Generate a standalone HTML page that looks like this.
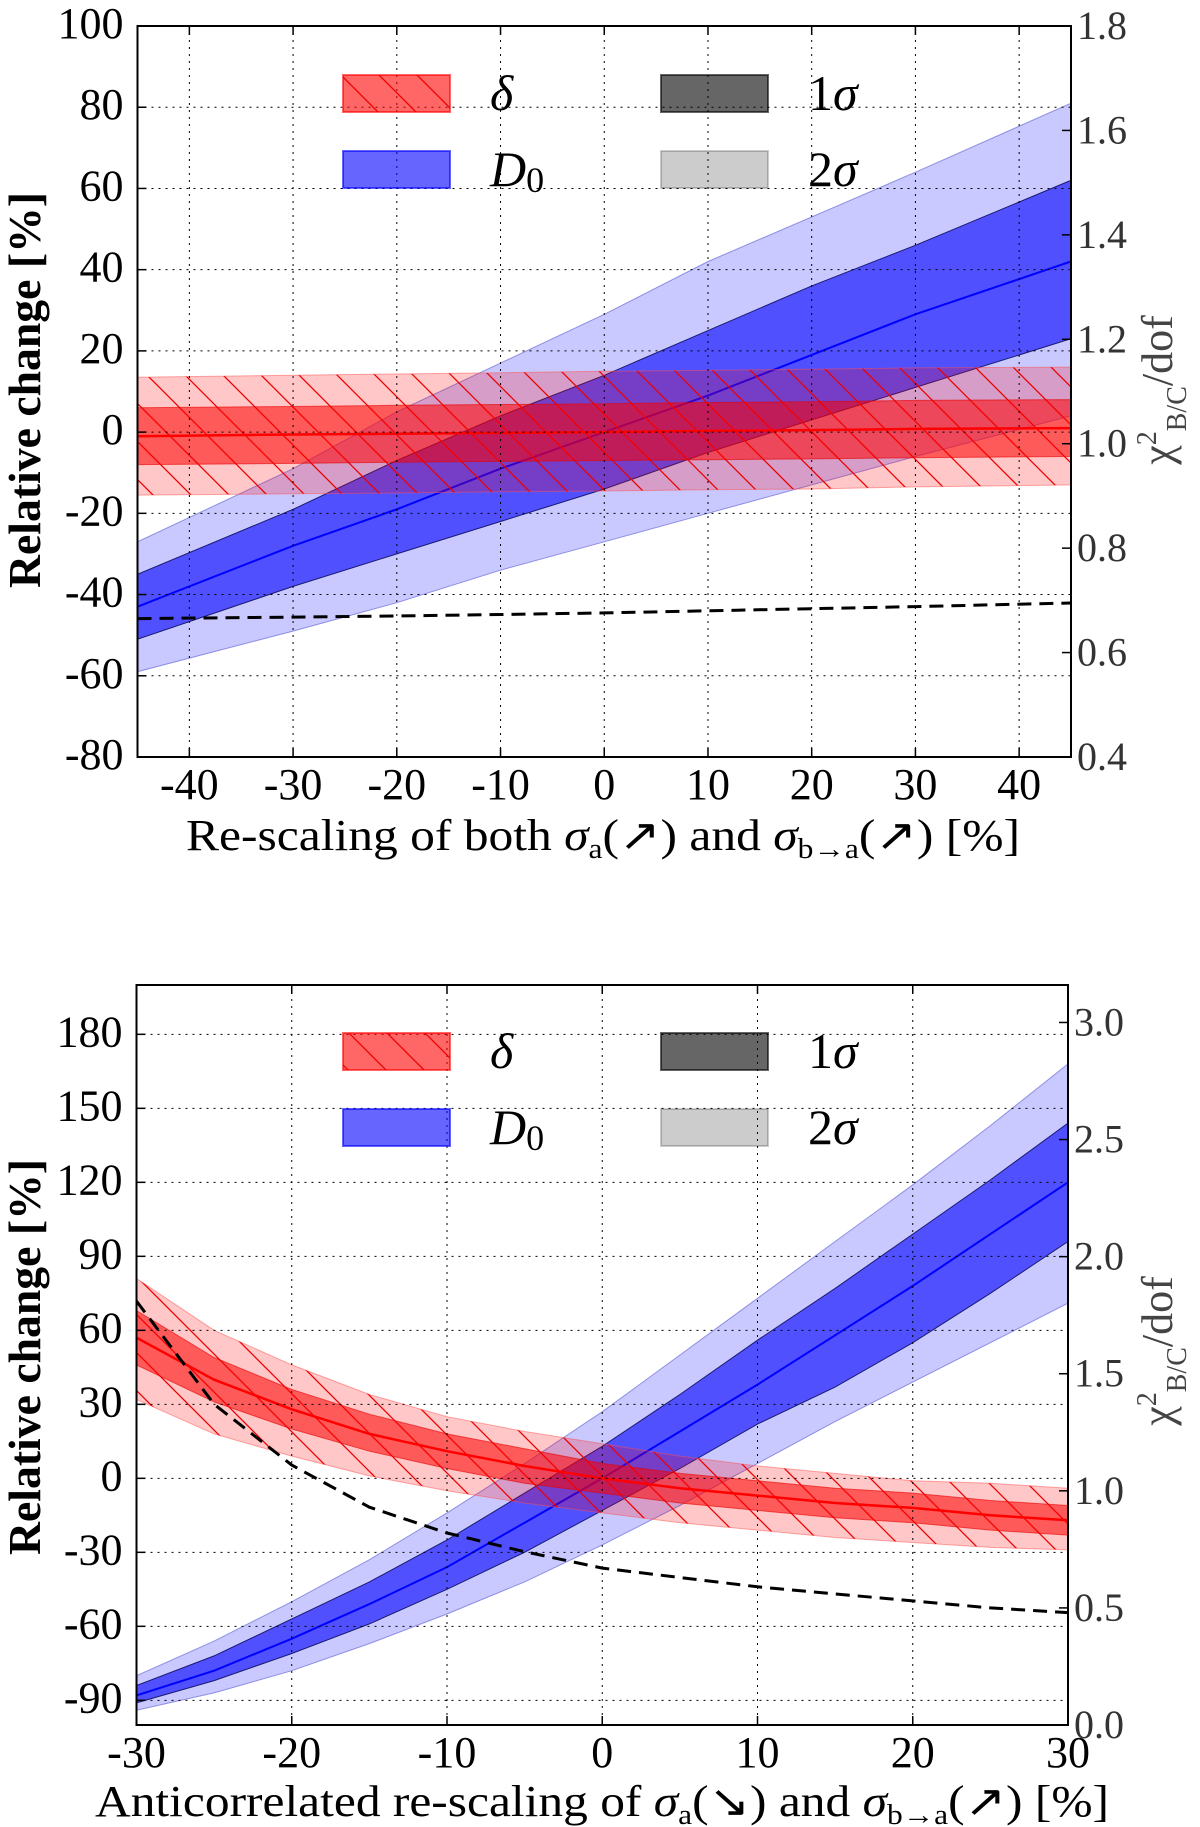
<!DOCTYPE html>
<html><head><meta charset="utf-8"><style>
html,body{margin:0;padding:0;background:#fff}
svg{display:block}
text{font-family:"Liberation Serif",serif}
</style></head><body>
<svg id="fig" width="1200" height="1827" viewBox="0 0 1200 1827" xmlns="http://www.w3.org/2000/svg">
<defs>
<pattern id="hatchA" patternUnits="userSpaceOnUse" width="38" height="38">
<path d="M-9,-9 L47,47 M-9,29 L9,47 M29,-9 L47,9" stroke="#e00" stroke-width="1.3"/>
</pattern>
<pattern id="hatchB" patternUnits="userSpaceOnUse" width="38" height="38">
<path d="M-9,-9 L47,47 M-9,29 L9,47 M29,-9 L47,9" stroke="#e00" stroke-width="1.3"/>
</pattern>
</defs>
<g id="top"></g>
<g id="bot"></g>
</svg>
<script>
// ---------- TOP CHART DATA ----------
const topX = [-45,-30,-20,-10,0,10,20,30,45];
const topBlueC  = [-43,-28,-19,-9,0,9,19,29,42];
const topBlueU1 = [-35,-19,-7,4,14,25,36,46,62];
const topBlueL1 = [-51,-38,-30,-22,-14,-5,3,11,23];
const topBlueU2 = [-27,-9,5,17,29,42,53,64,81];
const topBlueL2 = [-59,-49,-42,-34,-27,-20,-13,-6,4];
const topRedC   = [-1,-0.6,-0.4,-0.2,0,0.3,0.5,0.8,1];
const topRedU1  = [6,6.3,6.6,6.8,7,7.3,7.5,7.8,8];
const topRedL1  = [-8,-7.7,-7.4,-7.2,-7,-6.8,-6.6,-6.3,-6];
const topRedU2  = [13.5,14,14.3,14.6,15,15.2,15.5,15.8,16];
const topRedL2  = [-15.5,-15.2,-15,-14.7,-14.5,-14.2,-14,-13.5,-13];
const topChi    = [0.665,0.668,0.670,0.673,0.676,0.680,0.684,0.688,0.695];
const topXTicks = [-40,-30,-20,-10,0,10,20,30,40];
const topYTicks = [-80,-60,-40,-20,0,20,40,60,80,100];
const topRTicks = ["0.4","0.6","0.8","1.0","1.2","1.4","1.6","1.8"];

// ---------- BOTTOM CHART DATA ----------
const botX = [-30,-25,-20,-15,-10,-5,0,5,10,15,20,25,30];
const botBlueC  = [-88,-78,-65,-51,-36,-18,0,19,38,58,78,99,120];
const botBlueU1 = [-84,-72,-57,-42,-25,-6,13,34,56,77,99,121,144];
const botBlueL1 = [-91,-82,-71,-59,-45,-30,-13,4,22,37,55,75,96];
const botBlueU2 = [-80,-66,-50,-33,-14,6,27,50,73,96,119,143,168];
const botBlueL2 = [-94,-87,-78,-67,-55,-42,-27,-11,6,23,39,55,71];
const botRedC   = [57,40,28,18,11,5,0,-4,-7,-10,-12,-15,-17];
const botRedU1  = [68,49,36,26,18,12,6,2,-1,-4,-6,-9,-11];
const botRedL1  = [46,31,20,11,4,-2,-6,-10,-13,-16,-18,-21,-23];
const botRedU2  = [81,60,46,34,25,19,14,9,5,2,-1,-2,-4];
const botRedL2  = [32,18,9,1,-5,-10,-14,-18,-21,-24,-26,-28,-29];
const botChi    = [1.81,1.37,1.11,0.93,0.82,0.74,0.67,0.63,0.59,0.56,0.53,0.50,0.48];
const botXTicks = [-30,-20,-10,0,10,20,30];
const botYTicks = [-90,-60,-30,0,30,60,90,120,150,180];
const botRTicks = ["0.0","0.5","1.0","1.5","2.0","2.5","3.0"];

const NS="http://www.w3.org/2000/svg";
function mk(parent,tag,attrs){const e=document.createElementNS(NS,tag);for(const k in attrs)e.setAttribute(k,attrs[k]);parent.appendChild(e);return e;}

function drawChart(g,cfg){
  const {L,R,T,B,x0,x1,y0,y1,r0,r1}=cfg;
  const sx=v=>L+(v-x0)/(x1-x0)*(R-L);
  const sy=v=>B-(v-y0)/(y1-y0)*(B-T);
  const sr=v=>B-(v-r0)/(r1-r0)*(B-T);
  const X=cfg.xs;
  const line=(ys,f)=>X.map((x,i)=>(i?'L':'M')+sx(x).toFixed(1)+','+(f||sy)(ys[i]).toFixed(1)).join(' ');
  const band=(u,l)=>{let d=X.map((x,i)=>(i?'L':'M')+sx(x).toFixed(1)+','+sy(u[i]).toFixed(1)).join(' ');
    for(let i=X.length-1;i>=0;i--)d+=' L'+sx(X[i]).toFixed(1)+','+sy(l[i]).toFixed(1);return d+' Z';};
  const clipId='clip'+cfg.id;
  const cp=mk(g,'clipPath',{id:clipId});mk(cp,'rect',{x:L,y:T,width:R-L,height:B-T});
  const pg=mk(g,'g',{'clip-path':'url(#'+clipId+')'});
  
  
  let e=mk(pg,'path',{d:band(cfg.bu2,cfg.bl2),fill:'rgba(40,40,255,0.25)',stroke:'rgba(60,60,200,0.5)','stroke-width':1});
  
  
  e=mk(pg,'path',{d:band(cfg.bu1,cfg.bl1),fill:'rgba(0,0,255,0.6)',stroke:'#1a1a70','stroke-width':1});
  
  
  e=mk(pg,'path',{d:line(cfg.bc),fill:'none',stroke:'#0000ff','stroke-width':2});
  
  
  e=mk(pg,'path',{d:band(cfg.ru2,cfg.rl2),fill:'rgba(255,0,0,0.22)',stroke:'rgba(255,80,80,0.5)','stroke-width':1});
  
  
  e=mk(pg,'path',{d:band(cfg.ru2,cfg.rl2),fill:'url(#'+cfg.hatch+')',stroke:'none'});
  
  
  e=mk(pg,'path',{d:band(cfg.ru1,cfg.rl1),fill:'rgba(255,0,0,0.55)',stroke:'rgba(230,0,0,0.6)','stroke-width':1});
  
  
  e=mk(pg,'path',{d:line(cfg.rc),fill:'none',stroke:'#ff0000','stroke-width':2.5});
  
  
  e=mk(pg,'path',{d:line(cfg.chi,sr),fill:'none',stroke:'#000','stroke-width':3,'stroke-dasharray':'14,8'});
  
  
  cfg.xt.forEach(v=>{const l=mk(g,'line',{x1:sx(v),x2:sx(v),y1:T,y2:B,stroke:'#000','stroke-width':1,'stroke-dasharray':'2,5'});
    
    });
  cfg.yt.forEach(v=>{const l=mk(g,'line',{x1:L,x2:R,y1:sy(v),y2:sy(v),stroke:'#000','stroke-width':1,'stroke-dasharray':'2,5'});
    
    });
  const lg=mk(g,'g',{});
  
  
  const [ly1,ly2]=cfg.legY, sh=37;
  const sw=[[343,ly1,'rgba(255,0,0,0.6)','δ',true],[343,ly2,'rgba(0,0,255,0.6)','D0',false],[661,ly1,'rgba(0,0,0,0.6)','1σ',false],[661,ly2,'rgba(0,0,0,0.2)','2σ',false]];
  sw.forEach(s=>{
    const r=mk(lg,'rect',{x:s[0],y:s[1],width:107,height:sh,fill:s[2],stroke:s[2],'stroke-width':2});
    
    
    if(s[4]){const h=mk(lg,'rect',{x:s[0],y:s[1],width:107,height:sh,fill:'url(#'+cfg.hatch+')'});
      
      }
    const t=mk(lg,'text',{x:s[0]+147,y:s[1]+sh-2,'font-size':50,'font-style':'italic'});
    
    
    if(s[3]==='D0'){t.textContent='D';const ts=mk(t,'tspan',{'font-style':'normal','font-size':36,dy:6});ts.textContent='0';}
    else if(s[3]==='δ'){t.textContent='δ';}
    else{const a=mk(t,'tspan',{'font-style':'normal'});a.textContent=s[3][0];const b=mk(t,'tspan',{});b.textContent='σ';}
  });
  const fr=mk(g,'rect',{x:L,y:T,width:R-L,height:B-T,fill:'none',stroke:'#000','stroke-width':2});
  
  
  cfg.xt.forEach(v=>{
    mk(g,'line',{x1:sx(v),x2:sx(v),y1:B,y2:B-9,stroke:'#000','stroke-width':1.5});
    mk(g,'line',{x1:sx(v),x2:sx(v),y1:T,y2:T+9,stroke:'#000','stroke-width':1.5});
    const t=mk(g,'text',{x:sx(v),y:B+42,'font-size':44,'text-anchor':'middle'});
    
    
    t.textContent=v;});
  cfg.yt.forEach(v=>{
    mk(g,'line',{x1:L,x2:L+9,y1:sy(v),y2:sy(v),stroke:'#000','stroke-width':1.5});
    const t=mk(g,'text',{x:L-14,y:sy(v)+12,'font-size':44,'text-anchor':'end'});
    
    
    t.textContent=v;});
  cfg.rt.forEach(s=>{const v=parseFloat(s);
    mk(g,'line',{x1:R,x2:R-9,y1:sr(v),y2:sr(v),stroke:'#000','stroke-width':1.5});
    const t=mk(g,'text',{x:R+6,y:sr(v)+13,'font-size':40,fill:'#333'});
    
    
    t.textContent=s;});
}

drawChart(document.getElementById('top'),{id:'A',hatch:'hatchA',L:137.5,R:1071,T:26,B:757,x0:-45,x1:45,y0:-80,y1:100,r0:0.4,r1:1.8,
  xs:topX,bc:topBlueC,bu1:topBlueU1,bl1:topBlueL1,bu2:topBlueU2,bl2:topBlueL2,rc:topRedC,ru1:topRedU1,rl1:topRedL1,ru2:topRedU2,rl2:topRedL2,chi:topChi,
  xt:topXTicks,yt:topYTicks,rt:topRTicks,legY:[75,151]});
drawChart(document.getElementById('bot'),{id:'B',hatch:'hatchB',L:136.5,R:1068,T:985,B:1725,x0:-30,x1:30,y0:-100,y1:200,r0:0,r1:3.16,
  xs:botX,bc:botBlueC,bu1:botBlueU1,bl1:botBlueL1,bu2:botBlueU2,bl2:botBlueL2,rc:botRedC,ru1:botRedU1,rl1:botRedL1,ru2:botRedU2,rl2:botRedL2,chi:botChi,
  xt:botXTicks,yt:botYTicks,rt:botRTicks,legY:[1033,1109]});
</script>
<svg style="position:absolute;left:0;top:0" width="1200" height="1827">
<text transform="translate(40,390) rotate(-90)" text-anchor="middle" font-size="46" font-weight="bold" textLength="396" lengthAdjust="spacingAndGlyphs" font-family="Liberation Serif,serif">Relative change [%]</text>
<text transform="translate(1172,390) rotate(-90)" text-anchor="middle" font-size="44" fill="#444" font-family="Liberation Serif,serif">χ<tspan font-size="28" dy="-16">2</tspan><tspan font-size="28" dy="30">B/C</tspan><tspan dy="-14">/dof</tspan></text>
<text x="603" y="850" text-anchor="middle" font-size="44" textLength="834" lengthAdjust="spacingAndGlyphs" font-family="Liberation Serif,serif">Re-scaling of both <tspan font-style="italic">σ</tspan><tspan font-size="28" dy="8">a</tspan><tspan dy="-8">(↗) and </tspan><tspan font-style="italic">σ</tspan><tspan font-size="28" dy="8">b→a</tspan><tspan dy="-8">(↗) [%]</tspan></text>
<text transform="translate(40,1357) rotate(-90)" text-anchor="middle" font-size="46" font-weight="bold" textLength="396" lengthAdjust="spacingAndGlyphs" font-family="Liberation Serif,serif">Relative change [%]</text>
<text transform="translate(1172,1351) rotate(-90)" text-anchor="middle" font-size="44" fill="#444" font-family="Liberation Serif,serif">χ<tspan font-size="28" dy="-16">2</tspan><tspan font-size="28" dy="30">B/C</tspan><tspan dy="-14">/dof</tspan></text>
<text x="602" y="1816" text-anchor="middle" font-size="44" textLength="1014" lengthAdjust="spacingAndGlyphs" font-family="Liberation Serif,serif">Anticorrelated re-scaling of <tspan font-style="italic">σ</tspan><tspan font-size="28" dy="8">a</tspan><tspan dy="-8">(↘) and </tspan><tspan font-style="italic">σ</tspan><tspan font-size="28" dy="8">b→a</tspan><tspan dy="-8">(↗) [%]</tspan></text>
</svg>
</body></html>
